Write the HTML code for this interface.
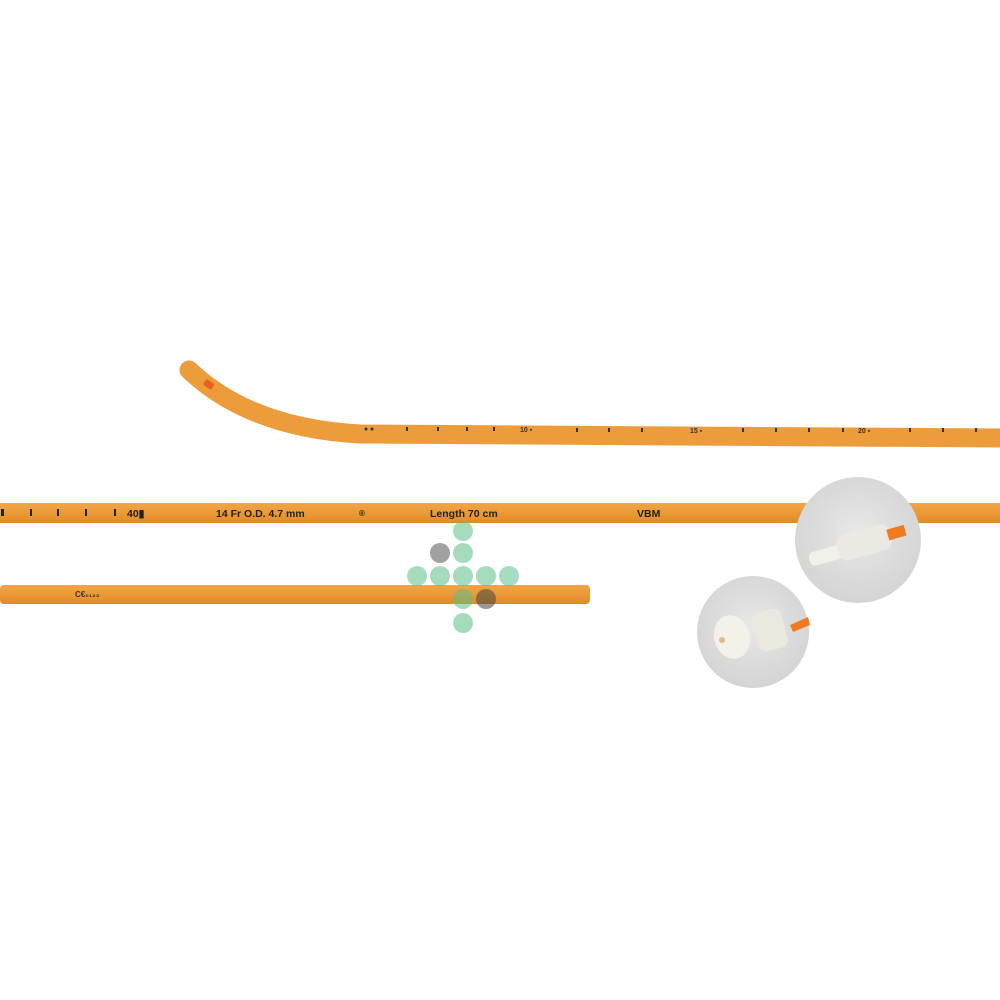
<!DOCTYPE html>
<html><head><style>body{margin:0;background:#fff}svg{display:block}</style></head><body>
<svg width="1000" height="1000" viewBox="0 0 1000 1000" xmlns="http://www.w3.org/2000/svg" font-family="Liberation Sans, sans-serif">
<defs>
<linearGradient id="tg" x1="0" y1="0" x2="0" y2="1"><stop offset="0" stop-color="#f0a545"/><stop offset="0.5" stop-color="#eb9a36"/><stop offset="1" stop-color="#e08a28"/></linearGradient>
<radialGradient id="cg" cx="0.5" cy="0.45" r="0.55"><stop offset="0" stop-color="#e8e8e8"/><stop offset="1" stop-color="#d4d4d4"/></radialGradient>
</defs>
<path d="M189,370 Q250,428 360,434 L1000,438" fill="none" stroke="#ec9c3a" stroke-width="19" stroke-linecap="round"/>
<rect x="204" y="381" width="10" height="7" rx="2" fill="#e8631e" transform="rotate(35 209 384)"/>
<g fill="#333">
<circle cx="366" cy="429" r="1.5"/><circle cx="372" cy="429" r="1.5"/>
<rect x="406" y="427" width="2" height="4"/><rect x="437" y="427" width="2" height="4"/><rect x="466" y="427" width="2" height="4"/><rect x="493" y="427" width="2" height="4"/>
<text x="520" y="432" font-size="7" font-weight="bold">10 ▪</text>
<rect x="576" y="428" width="2" height="4"/><rect x="608" y="428" width="2" height="4"/><rect x="641" y="428" width="2" height="4"/>
<text x="690" y="433" font-size="7" font-weight="bold">15 ▪</text>
<rect x="742" y="428" width="2" height="4"/><rect x="775" y="428" width="2" height="4"/><rect x="808" y="428" width="2" height="4"/><rect x="842" y="428" width="2" height="4"/>
<text x="858" y="433" font-size="7" font-weight="bold">20 ▪</text>
<rect x="909" y="428" width="2" height="4"/><rect x="942" y="428" width="2" height="4"/><rect x="975" y="428" width="2" height="4"/>
</g>
<rect x="0" y="503" width="1000" height="20" fill="url(#tg)"/>
<g fill="#222" font-weight="bold" font-size="10.5">
<rect x="1" y="509" width="3" height="7"/><rect x="30" y="509" width="2" height="7"/><rect x="57" y="509" width="2" height="7"/><rect x="85" y="509" width="2" height="7"/><rect x="114" y="509" width="2" height="7"/>
<text x="127" y="517">40▮</text>
<text x="216" y="517">14 Fr O.D. 4.7 mm</text>
<text x="359" y="516" font-size="8">®</text>
<text x="430" y="517">Length 70 cm</text>
<text x="637" y="517">VBM</text>
</g>
<rect x="0" y="585" width="590" height="19" rx="4" fill="url(#tg)"/>
<text x="75" y="597" font-size="8" font-weight="bold" fill="#333">C€₀₁₂₃</text>
<circle cx="858" cy="540" r="63" fill="url(#cg)"/>
<g transform="rotate(-16 858 540)">
<rect x="806" y="539" width="34" height="14" rx="5" fill="#f2f0ea"/>
<rect x="836" y="531" width="54" height="26" rx="8" fill="#ece9e2"/>
<rect x="888" y="538" width="18" height="11" fill="#f07a1e"/>
</g>
<circle cx="753" cy="632" r="56" fill="url(#cg)"/>
<path d="M790,625 L808,617 L810,625 L793,632 Z" fill="#f07a1e"/>
<rect x="755" y="610" width="30" height="40" rx="8" fill="#ebe8e0" transform="rotate(-15 770 630)"/>
<ellipse cx="732" cy="637" rx="18" ry="22" fill="#f3f1ea" transform="rotate(-15 732 637)"/>
<circle cx="722" cy="640" r="3" fill="#e4b88a"/>
<g opacity="0.55">
<circle cx="463" cy="531" r="10" fill="#5cc08a"/>
<circle cx="440" cy="553" r="10" fill="#555"/>
<circle cx="463" cy="553" r="10" fill="#5cc08a"/>
<circle cx="417" cy="576" r="10" fill="#5cc08a"/>
<circle cx="440" cy="576" r="10" fill="#5cc08a"/>
<circle cx="463" cy="576" r="10" fill="#5cc08a"/>
<circle cx="486" cy="576" r="10" fill="#5cc08a"/>
<circle cx="509" cy="576" r="10" fill="#5cc08a"/>
<circle cx="463" cy="599" r="10" fill="#5cc08a"/>
<circle cx="486" cy="599" r="10" fill="#444"/>
<circle cx="463" cy="623" r="10" fill="#5cc08a"/>
</g>
</svg>
</body></html>
